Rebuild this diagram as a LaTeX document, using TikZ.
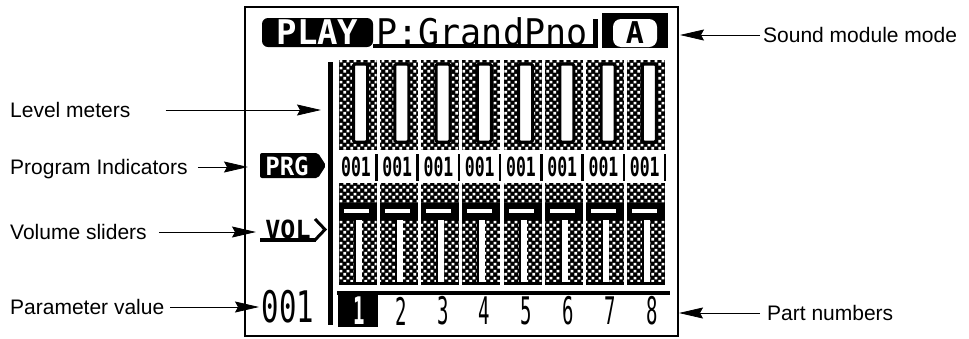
\documentclass[tikz,border=0pt]{standalone}
\usepackage{fontspec}
\usepackage{graphicx}
\setmainfont{Liberation Sans}
\newfontfamily\lcdfont{DejaVu Sans Mono}
\usetikzlibrary{arrows.meta,patterns}
\pgfdeclarepatternformonly{lcdcheck}{\pgfpointorigin}{\pgfqpoint{7pt}{7pt}}{\pgfqpoint{7pt}{7pt}}{%
  \pgfpathrectangle{\pgfqpoint{0.5pt}{0.5pt}}{\pgfqpoint{3pt}{3pt}}%
  \pgfpathrectangle{\pgfqpoint{4pt}{4pt}}{\pgfqpoint{3pt}{3pt}}%
  \pgfusepath{fill}}
\newcommand\lcdtext[3]{{\fontsize{#1}{#1}\selectfont\lcdfont\bfseries\scalebox{1}[#2]{#3}}}
\newcommand\lcdthin[3]{{\fontsize{#1}{#1}\selectfont\lcdfont\scalebox{1}[#2]{#3}}}
\begin{document}
\begin{tikzpicture}[x=1pt,y=-1pt,
  lbl/.style={font=\fontsize{21}{21}\selectfont, inner sep=0pt, text height=15pt, text depth=0pt},
  arr/.style={line width=0.8pt, -{Stealth[length=24pt,width=11pt,inset=3pt]}},
  lcd/.style={inner sep=0pt},
  checker/.style={fill=black, postaction={pattern=lcdcheck, pattern color=white}}]
\useasboundingbox (0,0) rectangle (969,338);
% frame
\draw[line width=1.2pt] (245,7) rectangle (678,336);
% header
\fill[rounded corners=6pt] (262,18) rectangle (373,47);
\node[lcd, text=white] (hplay) at (317.5,32.5) {\lcdtext{34}{1}{PLAY}};
\node[lcd] (hprog) at (482,32) {\lcdthin{35}{1.05}{P:GrandPno}};
\fill (373,44) rectangle (598,48);
\fill (593,19) rectangle (598,48);
\fill (602,13) rectangle (668,48);
\fill[white, rounded corners=8pt] (613,19) rectangle (657,47);
\node[lcd] (hA) at (635,33) {\lcdtext{30}{1}{A}};
% left bar
\fill (328,62) rectangle (333,325);
% PRG
\fill[rounded corners=2pt] (260,153) -- (318,153) -- (326,165.5) -- (318,178) -- (260,178) -- cycle;
\node[lcd, text=white] (prg) at (287,166) {\lcdtext{24}{1.05}{PRG}};
% VOL
\node[lcd] (vol) at (288,229) {\lcdtext{25}{1}{VOL}};
\fill (260,238) rectangle (316,242);
\draw[line width=3pt] (315,219) -- (325,229.5) -- (315,240);
% parameter value
\node[lcd] (pval) at (288,307) {\lcdthin{29}{1.5}{001}};
% columns
\foreach \i in {0,...,7}{
  \pgfmathsetmacro\cx{337.5+41.25*\i}
  \path[checker] ({\cx+1},60) rectangle ({\cx+39},150);
  \draw[line width=3pt, fill=white, rounded corners=1.5pt] ({\cx+16},64) rectangle ({\cx+30},142);
  \node[lcd] (prog\i) at ({\cx+18.5},167) {\lcdtext{16.5}{1.6}{001}};
  \fill ({\cx+37.5},154) rectangle ({\cx+40},181);
  \path[checker] ({\cx+1},183) rectangle ({\cx+39},284);
  \fill ({\cx+1},203) rectangle ({\cx+39},220);
  \fill[white] ({\cx+6},209) rectangle ({\cx+31},213);
  \fill[white] ({\cx+18},220) rectangle ({\cx+24},282);
  \fill ({\cx+16},220) rectangle ({\cx+18},284);
  \fill ({\cx+1},282) rectangle ({\cx+39},285);
}
% part numbers
\fill (337,291) rectangle (670,295);
\fill (338,292) rectangle (378,327);
\node[lcd, text=white] (part1) at (359,311) {\lcdtext{19}{2}{1}};
\foreach \i in {2,...,8}{
  \pgfmathsetmacro\px{401+41.8*(\i-2)}
  \node[lcd] (part\i) at (\px,311) {\lcdthin{19}{2}{\i}};
}
% labels
\node[lbl, anchor=west] (tlvl) at (10,110) {Level meters};
\coordinate (alvl) at (321,110);
\draw[arr, shorten <=35pt] (tlvl.east) -- (alvl);
\node[lbl, anchor=west] (tprg) at (10,167) {Program Indicators};
\coordinate (aprg) at (248,167);
\draw[arr, shorten <=10pt] (tprg.east) -- (aprg);
\node[lbl, anchor=west] (tvol) at (10,232) {Volume sliders};
\coordinate (avol) at (256,232);
\draw[arr, shorten <=12pt] (tvol.east) -- (avol);
\node[lbl, anchor=west] (tpar) at (10,307) {Parameter value};
\coordinate (apar) at (259,307);
\draw[arr, shorten <=6pt] (tpar.east) -- (apar);
\node[lbl, anchor=west] (tsnd) at (763,35) {Sound module mode};
\coordinate (asnd) at (680,35);
\draw[arr, shorten <=3pt] (tsnd.west) -- (asnd);
\node[lbl, anchor=west] (tpart) at (767,313) {Part numbers};
\coordinate (apart) at (679,313);
\draw[arr, shorten <=7pt] (tpart.west) -- (apart);
\end{tikzpicture}
\end{document}
